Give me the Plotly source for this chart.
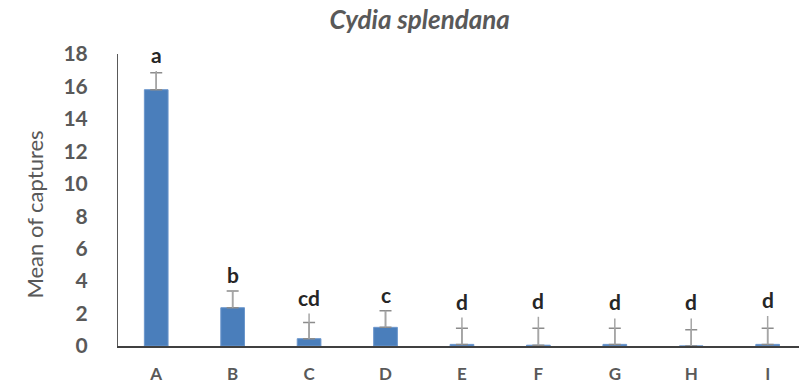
import plotly.graph_objects as go

categories = ["A", "B", "C", "D", "E", "F", "G", "H", "I"]
means = [15.8, 2.36, 0.45, 1.15, 0.1, 0.05, 0.1, 0.0, 0.1]
sem = [1.05, 1.03, 1.0, 1.03, 1.0, 1.05, 1.0, 1.0, 1.0]
leader_top = [16.95, 3.39, 2.0, 2.18, 1.75, 1.8, 1.7, 1.7, 1.85]
letters = ["a", "b", "cd", "c", "d", "d", "d", "d", "d"]

FONT = "Lato"
GRAY = "#595959"

fig = go.Figure()

# leader lines (thin gray vertical lines above bars, no cap)
fig.add_trace(go.Scatter(
    x=categories, y=means, mode="markers",
    marker=dict(size=0.1, color="rgba(0,0,0,0)"),
    error_y=dict(type="data", symmetric=False,
                 array=[t - m for t, m in zip(leader_top, means)],
                 arrayminus=[0] * len(means),
                 color="#a6a6a6", thickness=1.5, width=0),
    hoverinfo="skip", showlegend=False,
))

fig.add_trace(go.Bar(
    x=categories, y=means, width=0.31,
    marker=dict(color="#4a7ebb", line=dict(color="#6b96cc", width=1)),
    error_y=dict(type="data", symmetric=False, array=sem,
                 arrayminus=[0] * len(means),
                 color="#8c8c8c", thickness=1.5, width=6),
    showlegend=False,
))

for c, t, l in zip(categories, leader_top, letters):
    fig.add_annotation(x=c, y=t, text=f"<b>{l}</b>", showarrow=False,
                       yanchor="bottom", yshift=2,
                       font=dict(family=FONT, size=21, color="#262626"))

fig.add_annotation(text="Mean of captures", textangle=-90, showarrow=False,
                   xref="paper", yref="paper", x=0, y=0.45,
                   xanchor="center", yanchor="middle", xshift=-83,
                   font=dict(family=FONT, size=22, color=GRAY))

fig.update_layout(
    width=799, height=386,
    margin=dict(l=118, r=0, t=54, b=40),
    paper_bgcolor="white", plot_bgcolor="white",
    barmode="overlay",
    title=dict(text="<b><i>Cydia splendana</i></b>", x=0.443, xref="paper",
               xanchor="center", y=0.948, yanchor="middle",
               font=dict(family=FONT, size=26, color=GRAY)),
)

fig.update_xaxes(
    type="category", range=[-0.5, 8.41],
    showline=True, linecolor="#404040", linewidth=2,
    showgrid=False, ticks="",
    tickfont=dict(family=FONT, size=17, color=GRAY, weight="bold"),
    ticklabelstandoff=12,
)

fig.update_yaxes(
    range=[0, 18], dtick=2, tick0=0,
    showline=True, linecolor="#595959", linewidth=1,
    showgrid=False, zeroline=False, ticks="",
    tickfont=dict(family=FONT, size=21, color=GRAY, weight="bold"),
    ticklabelstandoff=25,
)

fig.write_html("out.html")
